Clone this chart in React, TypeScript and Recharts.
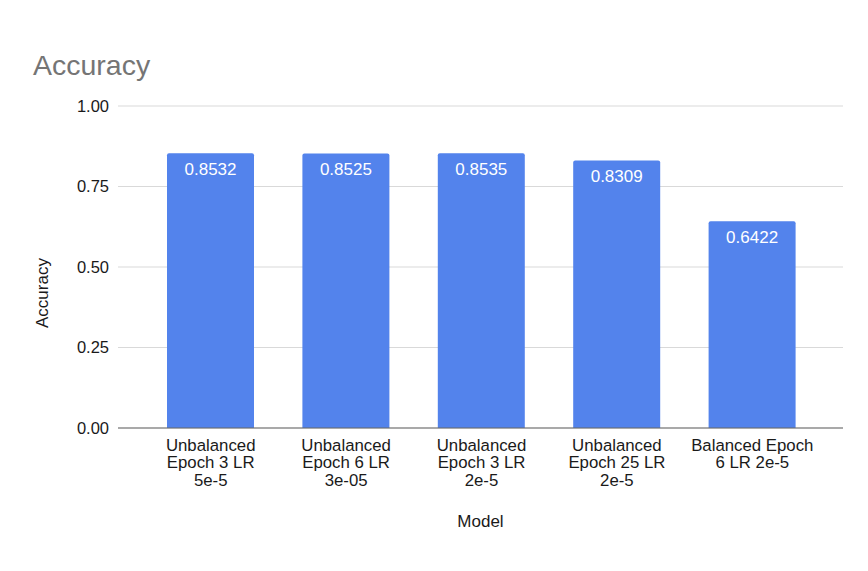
import React from 'react';
import { BarChart, Bar, XAxis, YAxis, CartesianGrid, LabelList } from 'recharts';

const categories = [
  'Unbalanced\nEpoch 3 LR\n5e-5',
  'Unbalanced\nEpoch 6 LR\n3e-05',
  'Unbalanced\nEpoch 3 LR\n2e-5',
  'Unbalanced\nEpoch 25 LR\n2e-5',
  'Balanced Epoch\n6 LR 2e-5',
];
const accuracy = [0.8532, 0.8525, 0.8535, 0.8309, 0.6422];
const yTicks = [0, 0.25, 0.5, 0.75, 1];

const data = categories.map((c, i) => ({ model: c, accuracy: accuracy[i] }));

const FONT = '"Liberation Sans", Arial, sans-serif';

const XTick = (props: any) => {
  const { x, y, payload } = props;
  const lines = String(payload.value).split('\n');
  return (
    <text x={x} y={y + 23} textAnchor="middle" fill="#1a1a1a" fontSize={16.8} fontFamily={FONT}>
      {lines.map((l, i) => (
        <tspan key={i} x={x} dy={i === 0 ? 0 : 17.3}>
          {l}
        </tspan>
      ))}
    </text>
  );
};

const BarValue = (props: any) => {
  const { x, y, width, value } = props;
  return (
    <text x={x + width / 2} y={y + 22} textAnchor="middle" fill="#ffffff" fontSize={17} fontFamily={FONT}>
      {Number(value).toFixed(4)}
    </text>
  );
};

const YLabel = () => (
  <text
    x={42}
    y={293}
    transform="rotate(-90, 42, 293)"
    textAnchor="middle"
    dominantBaseline="central"
    fill="#1a1a1a"
    fontSize={17}
    fontFamily={FONT}
  >
    Accuracy
  </text>
);

const XLabel = () => (
  <text x={480.5} y={527} textAnchor="middle" fill="#1a1a1a" fontSize={17} fontFamily={FONT}>
    Model
  </text>
);

export default function App() {
  return (
    <div style={{ position: 'absolute', left: 0, top: 0, width: 868, height: 571, background: '#fff' }}>
      <BarChart
        width={868}
        height={571}
        data={data}
        margin={{ top: 106, right: 25, bottom: 43, left: 0 }}
        barSize={87}
      >
        <CartesianGrid vertical={false} stroke="#d9d9d9" />
        <XAxis
          dataKey="model"
          height={100}
          interval={0}
          tick={<XTick />}
          tickLine={false}
          tickSize={0}
          tickMargin={0}
          axisLine={{ stroke: '#666', strokeWidth: 1 }}
          padding={{ left: 25, right: 23 }}
          label={<XLabel />}
        />
        <YAxis
          width={118}
          domain={[0, 1]}
          ticks={yTicks}
          tickFormatter={(v: number) => v.toFixed(2)}
          axisLine={false}
          tickLine={false}
          tickSize={0}
          tickMargin={9}
          tick={{ fill: '#1a1a1a', fontSize: 16.5, fontFamily: FONT }}
          label={<YLabel />}
        />
        <Bar dataKey="accuracy" fill="#5383EC" radius={[2, 2, 0, 0]} isAnimationActive={false}>
          <LabelList dataKey="accuracy" content={<BarValue />} />
        </Bar>
      </BarChart>
      <svg width={868} height={571} style={{ position: 'absolute', left: 0, top: 0, pointerEvents: 'none' }}>
        <text x={33} y={75} fill="#757575" fontSize={28.5} fontFamily={FONT}>
          Accuracy
        </text>
      </svg>
    </div>
  );
}
